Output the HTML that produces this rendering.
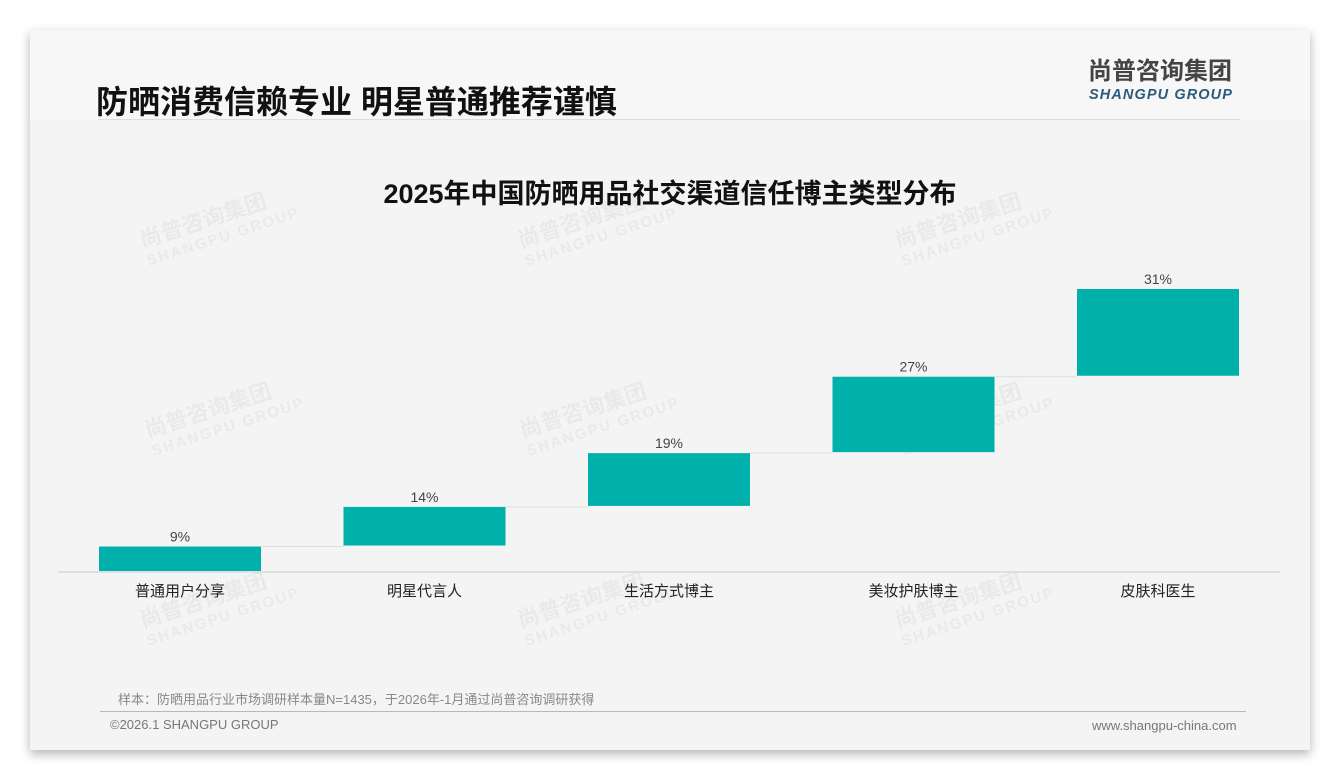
<!DOCTYPE html>
<html><head><meta charset="utf-8">
<style>
body{margin:0;width:1340px;height:780px;background:#fff;font-family:"Liberation Sans","Noto Sans CJK SC",sans-serif;overflow:hidden;position:relative}
.card{position:absolute;left:30px;top:30px;width:1280px;height:720px;background:#f4f4f4;box-shadow:0 4px 10px rgba(0,0,0,.3)}
.hdr{position:absolute;left:0;top:0;width:1280px;height:90px;background:#f7f7f7}
.abs{position:absolute;white-space:nowrap}
.wm{position:absolute;color:rgba(0,0,0,.045);font-weight:bold;transform:rotate(-18deg);font-size:22px;line-height:22px}
.wm span{display:block;font-size:15px;letter-spacing:2px}
</style></head><body>
<div class="card">
<div class="hdr"></div>
</div>
<div class="abs" style="left:96px;top:77px;font-size:32px;font-weight:bold;color:#111">防晒消费信赖专业 明星普通推荐谨慎</div>
<div class="abs" style="left:1088px;top:57px;font-size:24px;line-height:30px;font-weight:bold;color:#444">尚普咨询集团</div>
<div class="abs" style="left:1089px;top:87px;font-size:14.5px;line-height:17px;font-weight:bold;font-style:italic;color:#2d5a7b;letter-spacing:1.1px">SHANGPU GROUP</div>
<div class="abs" style="left:98px;top:119px;width:1142px;height:1px;background:#ddd"></div>
<div class="abs" style="left:0;width:1340px;text-align:center;top:172px;font-size:27px;font-weight:bold;color:#111">2025年中国防晒用品社交渠道信任博主类型分布</div>
<div class="wm" style="left:140px;top:205px">尚普咨询集团<span>SHANGPU GROUP</span></div>
<div class="wm" style="left:518px;top:205px">尚普咨询集团<span>SHANGPU GROUP</span></div>
<div class="wm" style="left:895px;top:205px">尚普咨询集团<span>SHANGPU GROUP</span></div>
<div class="wm" style="left:145px;top:395px">尚普咨询集团<span>SHANGPU GROUP</span></div>
<div class="wm" style="left:520px;top:395px">尚普咨询集团<span>SHANGPU GROUP</span></div>
<div class="wm" style="left:895px;top:395px">尚普咨询集团<span>SHANGPU GROUP</span></div>
<div class="wm" style="left:140px;top:585px">尚普咨询集团<span>SHANGPU GROUP</span></div>
<div class="wm" style="left:518px;top:585px">尚普咨询集团<span>SHANGPU GROUP</span></div>
<div class="wm" style="left:895px;top:585px">尚普咨询集团<span>SHANGPU GROUP</span></div>
<svg id="chart" class="abs" style="left:0;top:0" width="1340" height="780"></svg>
<div class="abs" style="left:118px;top:689px;font-size:13px;color:#888">样本：防晒用品行业市场调研样本量N=1435，于2026年-1月通过尚普咨询调研获得</div>
<div class="abs" style="left:100px;top:711px;width:1146px;height:1px;background:#a9bccd"></div>
<div class="abs" style="left:110px;top:717px;font-size:13px;color:#777">©2026.1 SHANGPU GROUP</div>
<div class="abs" style="left:1092px;top:718px;font-size:13px;color:#777">www.shangpu-china.com</div>
<script>
const categories=["普通用户分享","明星代言人","生活方式博主","美妆护肤博主","皮肤科医生"];
const values=[9,14,19,27,31];
const labels=["9%","14%","19%","27%","31%"];
const svg=document.getElementById('chart');
const NS='http://www.w3.org/2000/svg';
const baseY=572, pxPer=2.83, x0=180, step=244.5, bw=162;
const y=v=>baseY-v*pxPer;
const cx=i=>x0+i*step;
function mk(t,a){const e=document.createElementNS(NS,t);for(const k in a)e.setAttribute(k,a[k]);svg.appendChild(e);return e;}
const ax=mk('line',{x1:58,x2:1280,y1:baseY,y2:baseY,stroke:'#ccc','stroke-width':1});


let cum=0;
values.forEach((v,i)=>{
  const b=cum, t=cum+v;
  if(i<values.length-1){
    const c=mk('line',{x1:cx(i)+bw/2,x2:cx(i+1)-bw/2,y1:y(t),y2:y(t),stroke:'#ddd','stroke-width':1});
    
    
  }
  const r=mk('rect',{x:cx(i)-bw/2,y:y(t),width:bw,height:(t-b)*pxPer-1,fill:'#00b0aa'});
  
  
  const l=mk('text',{x:cx(i),y:y(t)-5,'text-anchor':'middle','font-size':14,fill:'#444'});
  l.textContent=labels[i];
  
  
  const c2=mk('text',{x:cx(i),y:596,'text-anchor':'middle','font-size':15,fill:'#222'});
  c2.textContent=categories[i];
  
  
  cum=t;
});
</script>
</body></html>
